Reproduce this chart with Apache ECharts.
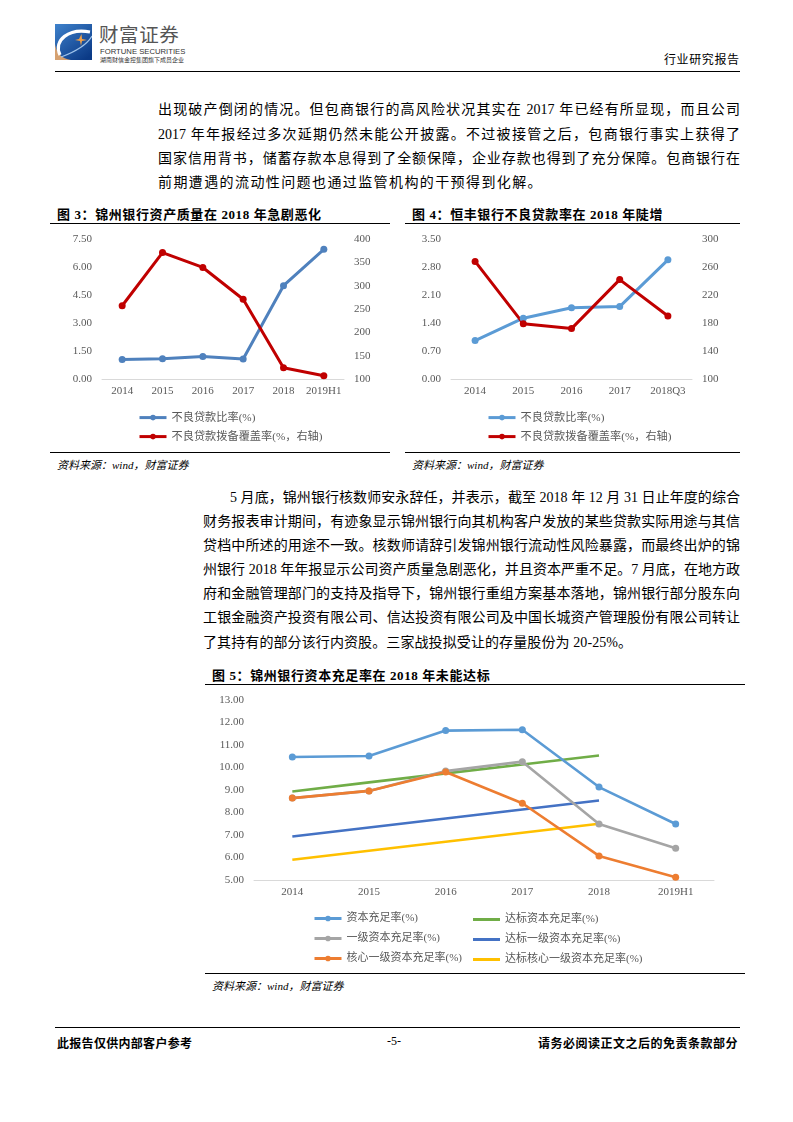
<!DOCTYPE html>
<html><head><meta charset="utf-8">
<script src="https://cdn.jsdelivr.net/npm/echarts@6/dist/echarts.min.js"></script>
<style>
body{margin:0;width:793px;height:1122px;position:relative;background:#fff;font-family:"Liberation Serif","Noto Sans CJK SC",serif;color:#000;overflow:hidden;}
.a{position:absolute;white-space:nowrap;}
.ln{position:absolute;font-size:14px;line-height:16px;}
.j{text-align:justify;text-align-last:justify;}
.t{position:absolute;font-size:13px;font-weight:bold;white-space:nowrap;letter-spacing:0.6px;}
.hr{position:absolute;height:0;border-top:1.3px solid #000;}
.src{position:absolute;font-size:11px;font-style:italic;white-space:nowrap;}
.chart{position:absolute;}
</style></head>
<body>
<script>
const fig3Years = ['2014','2015','2016','2017','2018','2019H1'];
const fig3NplRatio = [1.05,1.09,1.20,1.07,5.00,6.95];
const fig3Coverage = [257,371,339,271,124,107];
const fig4Years = ['2014','2015','2016','2017','2018Q3'];
const fig4NplRatio = [0.96,1.52,1.78,1.81,2.98];
const fig4Coverage = [268,179,172,242,190];
const fig5Years = ['2014','2015','2016','2017','2018','2019H1'];
const carActual = [10.47,10.51,11.64,11.68,9.13,7.49];
const carTarget = [8.93,9.34,9.74,10.13,10.53,null];
const tier1Actual = [8.64,8.96,9.84,10.26,7.49,6.41];
const tier1Target = [6.93,7.33,7.73,8.13,8.53,null];
const cet1Actual = [8.64,8.96,9.80,8.41,6.07,5.12];
const cet1Target = [5.90,6.30,6.70,7.10,7.50,null];
</script>

<!-- header -->
<svg class="a" style="left:55px;top:24px" width="37" height="36" viewBox="0 0 37 36">
<defs><linearGradient id="g" x1="0" y1="0" x2="0.8" y2="1"><stop offset="0" stop-color="#3f82cc"/><stop offset="1" stop-color="#0b3a86"/></linearGradient></defs>
<rect width="37" height="36" fill="url(#g)"/>
<path d="M0 20 Q2 34 16 36 L0 36 Z" fill="#d6a170"/>
<path d="M5 31 C-2 16 14 4 35 8" stroke="#fff" stroke-width="3.2" fill="none"/>
<path d="M6 33 C14 30 30 24 37 12" stroke="#9fc3ea" stroke-width="1.2" fill="none"/>
<path d="M24 15 L26.5 10 L27 15 L32 16 L27 17 L26 22 L25 17 L20 16 Z" fill="#f0a048"/>
</svg>
<div class="a" style="left:99px;top:24px;font-family:'Noto Sans CJK SC';font-size:19.5px;line-height:20px;color:#555;letter-spacing:0.6px;">财富证券</div>
<div class="a" style="left:100px;top:47px;font-family:'Liberation Sans';font-size:7.7px;line-height:9px;color:#333;">FORTUNE SECURITIES</div>
<div class="a" style="left:100px;top:56px;font-family:'Noto Sans CJK SC';font-size:6px;line-height:7px;color:#333;">湖南财信金控集团旗下成员企业</div>
<div class="a" style="left:664px;top:50px;font-size:12px;letter-spacing:0.6px;">行业研究报告</div>
<div class="hr" style="left:55px;top:71px;width:685px;"></div>

<!-- paragraph 1 -->
<div class="ln j" style="left:158px;top:102px;width:582px;">出现破产倒闭的情况。但包商银行的高风险状况其实在 2017 年已经有所显现，而且公司</div>
<div class="ln j" style="left:158px;top:127px;width:582px;">2017 年年报经过多次延期仍然未能公开披露。不过被接管之后，包商银行事实上获得了</div>
<div class="ln j" style="left:158px;top:151px;width:582px;">国家信用背书，储蓄存款本息得到了全额保障，企业存款也得到了充分保障。包商银行在</div>
<div class="ln" style="left:158px;top:175px;letter-spacing:1.4px;white-space:nowrap;">前期遭遇的流动性问题也通过监管机构的干预得到化解。</div>

<!-- fig 3 / fig 4 titles -->
<div class="t" style="left:57px;top:204px;">图 3：锦州银行资产质量在 2018 年急剧恶化</div>
<div class="hr" style="left:50px;top:223px;width:340px;"></div>
<div class="t" style="left:412px;top:204px;">图 4：恒丰银行不良贷款率在 2018 年陡增</div>
<div class="hr" style="left:405px;top:223px;width:335px;"></div>

<div id="c1" class="chart" style="left:55px;top:225px;width:335px;height:225px;"></div>
<div id="c2" class="chart" style="left:405px;top:225px;width:335px;height:225px;"></div>

<div class="hr" style="left:50px;top:452px;width:340px;"></div>
<div class="src" style="left:57px;top:456px;">资料来源：wind，财富证券</div>
<div class="hr" style="left:405px;top:452px;width:335px;"></div>
<div class="src" style="left:412px;top:456px;">资料来源：wind，财富证券</div>

<!-- paragraph 2 -->
<div class="ln j" style="left:230px;top:490px;width:510px;">5 月底，锦州银行核数师安永辞任，并表示，截至 2018 年 12 月 31 日止年度的综合</div>
<div class="ln j" style="left:203px;top:514px;width:537px;">财务报表审计期间，有迹象显示锦州银行向其机构客户发放的某些贷款实际用途与其信</div>
<div class="ln j" style="left:203px;top:538px;width:537px;">贷档中所述的用途不一致。核数师请辞引发锦州银行流动性风险暴露，而最终出炉的锦</div>
<div class="ln j" style="left:203px;top:562px;width:537px;">州银行 2018 年年报显示公司资产质量急剧恶化，并且资本严重不足。7 月底，在地方政</div>
<div class="ln j" style="left:203px;top:586px;width:537px;">府和金融管理部门的支持及指导下，锦州银行重组方案基本落地，锦州银行部分股东向</div>
<div class="ln j" style="left:203px;top:610px;width:537px;">工银金融资产投资有限公司、信达投资有限公司及中国长城资产管理股份有限公司转让</div>
<div class="ln" style="left:203px;top:635px;white-space:nowrap;letter-spacing:0.1px;">了其持有的部分该行内资股。三家战投拟受让的存量股份为 20-25%。</div>

<!-- fig 5 -->
<div class="t" style="left:212px;top:665px;">图 5：锦州银行资本充足率在 2018 年未能达标</div>
<div class="hr" style="left:205px;top:684px;width:540px;"></div>
<div id="c3" class="chart" style="left:205px;top:686px;width:540px;height:286px;"></div>
<div class="hr" style="left:205px;top:973px;width:540px;"></div>
<div class="src" style="left:212px;top:977px;">资料来源：wind，财富证券</div>

<!-- footer -->
<div class="hr" style="left:55px;top:1027px;width:685px;"></div>
<div class="a" style="left:57px;top:1034px;font-size:12px;font-weight:bold;letter-spacing:0.3px;">此报告仅供内部客户参考</div>
<div class="a" style="left:387px;top:1034px;font-size:12px;">-5-</div>
<div class="a" style="left:538px;top:1034px;font-size:12px;font-weight:bold;letter-spacing:0.5px;">请务必阅读正文之后的免责条款部分</div>

<script>
const FF = 'Liberation Serif, Noto Sans CJK SC, serif';
const axisTxt = {color:'#595959', fontSize:11, fontFamily:FF};
function catAxis(data){
  return {type:'category', data:data, boundaryGap:true,
    axisLine:{lineStyle:{color:'#D9D9D9', width:1}}, axisTick:{show:false},
    axisLabel:Object.assign({margin:7, interval:0}, axisTxt), splitLine:{show:false}};
}
function valAxis(min,max,interval,dec,pos){
  return {type:'value', min:min, max:max, interval:interval, position:pos,
    axisLine:{show:false}, axisTick:{show:false}, splitLine:{show:false},
    axisLabel:Object.assign({margin:10, formatter:v=>v.toFixed(dec)}, axisTxt)};
}
function lineSeries(name,data,color,opts){
  return Object.assign({name:name, type:'line', data:data, symbol:'circle', symbolSize:7,
    lineStyle:{width:3, color:color}, itemStyle:{color:color}}, opts||{});
}
function leg(name,left,top,fs,plain,color){
  const item = plain ? {name:name, icon:'rect', itemStyle:{color:color}} : {name:name};
  return {data:[item], left:left, top:top, itemWidth:27, itemHeight: plain ? 3 : 7, padding:0,
    lineStyle:{width:3}, textStyle:{color:'#595959', fontSize:fs, fontFamily:FF}};
}
function dualChart(id, years, ratio, cov, blue, y1, y2, gridLeft, gridRight, legLeft){
  const c = echarts.init(document.getElementById(id));
  c.setOption({
    animation:false,
    grid:{left:gridLeft, right:gridRight, top:14, bottom:71},
    xAxis:catAxis(years),
    yAxis:[valAxis(y1[0],y1[1],y1[2],2,'left'), valAxis(y2[0],y2[1],y2[2],0,'right')],
    legend:[leg('不良贷款比率(%)', legLeft, 187, 11.2), leg('不良贷款拨备覆盖率(%，右轴)', legLeft, 206, 11.2)],
    series:[
      lineSeries('不良贷款比率(%)', ratio, blue, {yAxisIndex:0}),
      lineSeries('不良贷款拨备覆盖率(%，右轴)', cov, '#C00000', {yAxisIndex:1})
    ]
  });
}
dualChart('c1', fig3Years, fig3NplRatio, fig3Coverage, '#4F81BD', [0,7.5,1.5], [100,400,50], 47, 46, 83);
dualChart('c2', fig4Years, fig4NplRatio, fig4Coverage, '#5B9BD5', [0,3.5,0.7], [100,300,40], 46, 48, 82);

const c3 = echarts.init(document.getElementById('c3'));
c3.setOption({
  animation:false,
  grid:{left:49, right:31, top:14, bottom:92},
  xAxis:catAxis(fig5Years),
  yAxis:valAxis(5,13,1,2,'left'),
  legend:[
    leg('资本充足率(%)',108,227,11), leg('一级资本充足率(%)',108,247,11), leg('核心一级资本充足率(%)',108,267,11),
    leg('达标资本充足率(%)',268,228,11,true,'#70AD47'), leg('达标一级资本充足率(%)',268,248,11,true,'#4472C4'),
    leg('达标核心一级资本充足率(%)',268,268,11,true,'#FFC000')
  ],
  series:[
    lineSeries('达标资本充足率(%)', carTarget, '#70AD47', {symbol:'none', lineStyle:{width:2.6,color:'#70AD47'}}),
    lineSeries('达标一级资本充足率(%)', tier1Target, '#4472C4', {symbol:'none', lineStyle:{width:2.6,color:'#4472C4'}}),
    lineSeries('达标核心一级资本充足率(%)', cet1Target, '#FFC000', {symbol:'none', lineStyle:{width:2.6,color:'#FFC000'}}),
    lineSeries('资本充足率(%)', carActual, '#5B9BD5', {lineStyle:{width:2.6,color:'#5B9BD5'}}),
    lineSeries('一级资本充足率(%)', tier1Actual, '#A5A5A5', {lineStyle:{width:2.6,color:'#A5A5A5'}}),
    lineSeries('核心一级资本充足率(%)', cet1Actual, '#ED7D31', {lineStyle:{width:2.6,color:'#ED7D31'}})
  ]
});
</script>
</body></html>
